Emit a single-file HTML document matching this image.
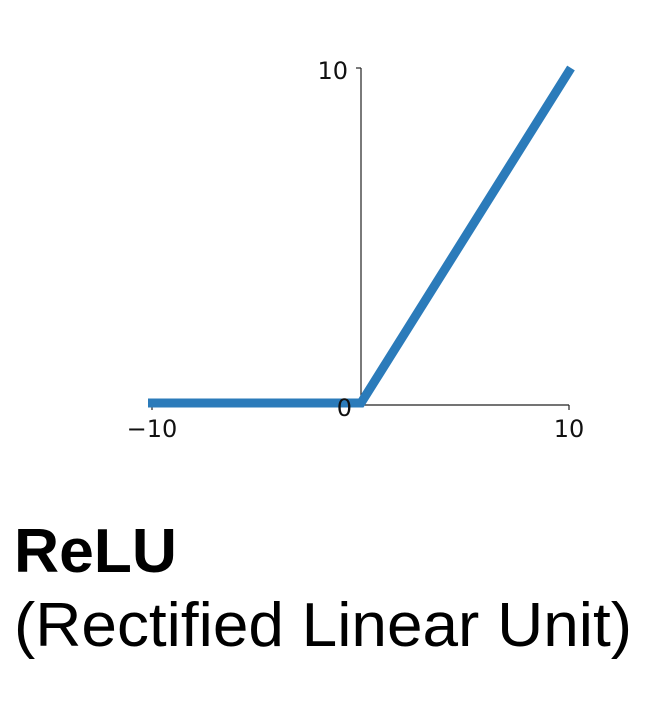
<!DOCTYPE html>
<html><head><meta charset="utf-8"><style>
html,body{margin:0;padding:0;background:#fff;}
svg{display:block;}
</style></head><body>
<svg width="660" height="704" viewBox="0 0 660 704" xmlns="http://www.w3.org/2000/svg">
<rect width="660" height="704" fill="#fff"/>
<line x1="361" y1="68" x2="361" y2="405" stroke="#222" stroke-width="1.2"/>
<line x1="356" y1="68" x2="361" y2="68" stroke="#222" stroke-width="1.2"/>
<line x1="152" y1="405" x2="569" y2="405" stroke="#222" stroke-width="1.2"/>
<line x1="152" y1="405" x2="152" y2="410" stroke="#222" stroke-width="1.2"/>
<line x1="569" y1="405" x2="569" y2="410" stroke="#222" stroke-width="1.2"/>
<polyline points="148,403 361,403 571,68" fill="none" stroke="#2b7bba" stroke-width="9" stroke-linejoin="miter"/>
<g font-family="DejaVu Sans, sans-serif" font-size="24" fill="#111">
<text x="348" y="79" text-anchor="end">10</text>
<text x="352" y="416" text-anchor="end">0</text>
<text x="152" y="437" text-anchor="middle">−10</text>
<text x="569" y="437" text-anchor="middle">10</text>
</g>
<text x="14" y="572" font-family="Liberation Sans, Arial, sans-serif" font-weight="bold" font-size="62" fill="#000" textLength="163" lengthAdjust="spacingAndGlyphs">ReLU</text>
<text x="14" y="646" font-family="Liberation Sans, Arial, sans-serif" font-size="62" fill="#000" textLength="618" lengthAdjust="spacingAndGlyphs">(Rectified Linear Unit)</text>
</svg>
</body></html>
